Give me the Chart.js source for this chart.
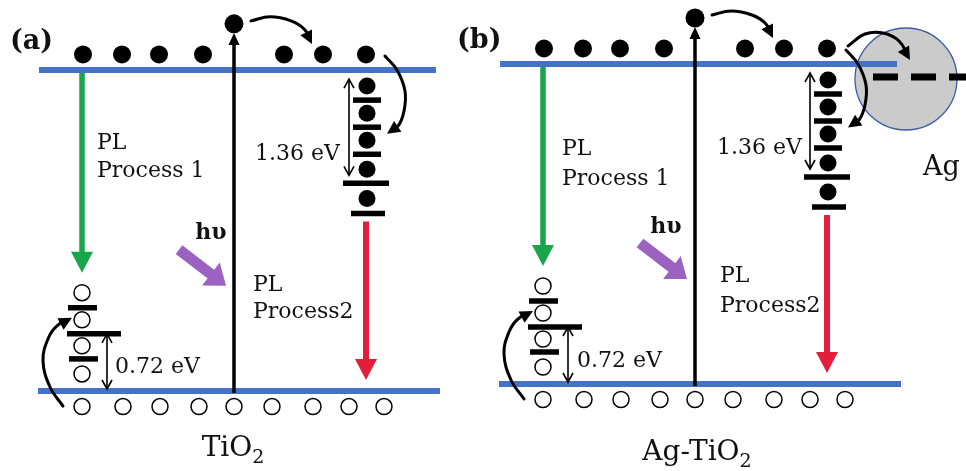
<!DOCTYPE html>
<html>
<head>
<meta charset="utf-8">
<title>PL processes in TiO2 and Ag-TiO2</title>
<script src="https://cdn.jsdelivr.net/npm/chart.js@4.4.0/dist/chart.umd.min.js"></script>
<style>
    body { margin: 0; background: #ffffff; }
    .wrap { position: relative; width: 966px; height: 471px; overflow: hidden; }
    canvas { position: absolute; top: 0; }
    #panelA { left: 0; }
    #panelB { left: 452px; }
</style>
</head>
<body>
<div class="wrap">
    <canvas id="panelA" width="452" height="471"></canvas>
    <canvas id="panelB" width="514" height="471"></canvas>
</div>
<script>
// energy axis in eV: valence band top = 0, conduction band bottom = 3.2
// x axis: position along the band, arbitrary units
const cbEnergy = 3.2;
const vbEnergy = 0;
const cbSpan = [1, 398];
const vbSpan = [0, 402];

const electronX = [45, 84, 121, 165, 246, 285, 328];
const electronE = 3.355;
const excitedElectron = [196, 3.66];
const holeX = [44, 85, 122, 161, 196, 234, 275, 311, 346];
const holeE = -0.155;

// electron traps under the conduction band
const eTrapX = 329;
const eTrapDots = [3.04, 2.77, 2.50, 2.21, 1.92];
const eTrapLevels = [2.90, 2.63, 2.36, 2.07, 1.77];
const eTrapSpans = [[315, 343], [315, 343], [315, 343], [305, 351], [313, 347]];

// hole traps over the valence band
const hTrapX = 44;
const hTrapDots = [0.98, 0.71, 0.45, 0.17];
const hTrapLevels = [0.83, 0.57, 0.32];
const hTrapSpans = [[30, 59], [29, 83], [31, 60]];

// transitions [x, eV]
const excitation = [[196, -0.02], [196, 3.57]];
const pl1Path = [[44, 3.17], [44, 1.18]];
const pl2Path = [[328, 1.69], [328, 0.11]];
const photonPath = [[141, 1.41], [188, 1.05]];
const relaxPath = [[213, 3.69], [232, 3.73], [253, 3.69], [267, 3.60], [274, 3.46]];
const trapPath = [[347, 3.34], [359, 3.20], [367, 2.99], [366, 2.79], [360, 2.64], [349, 2.565]];
const holeTrapPath = [[25, -0.15], [12, 0.04], [5, 0.30], [10, 0.52], [19, 0.65], [34, 0.73]];
const agPath = [[349, 3.38], [366, 3.50], [384, 3.51], [400, 3.43], [411, 3.24]];
const gap136 = [[311, 3.11], [311, 2.15]];
const gap072 = [[69, 0.57], [69, 0.02]];

// Ag nanoparticle and its Fermi level
const agParticle = [407, 3.05];
const agFermi = [[374, 3.07], [470, 3.07]];

const plText = ['PL', 'Process 1', 'PL', 'Process2'];
const gapText = ['1.36 eV', '0.72 eV'];
const photonText = 'hυ';

const colors = {
    band: '#4472c4',
    pl1: '#19a64b',
    pl2: '#e31e3a',
    photon: '#9b62c2',
    ink: '#000000',
    text: '#111111',
    ag: '#cbcbcb',
    agEdge: '#3d5ba6'
};

const fonts = {
    body: '22px "DejaVu Serif"',
    bold: 'bold 22px "DejaVu Serif"',
    letter: 'bold 27px "DejaVu Serif"',
    title: '28px "DejaVu Serif"',
    sub: '19px "DejaVu Serif"',
    ag: '27px "DejaVu Serif"'
};

const toPoints = list => list.map(([x, y]) => ({ x, y }));

function path(points, color, width, extra) {
    return Object.assign({
        data: toPoints(points),
        showLine: true,
        borderColor: color,
        borderWidth: width,
        borderCapStyle: 'butt',
        pointRadius: 0,
        tension: 0,
        fill: false
    }, extra);
}

function dots(xs, es, radius, fill, edge, edgeWidth) {
    return {
        data: xs.map((x, i) => ({ x, y: es[i] })),
        showLine: false,
        pointRadius: radius,
        pointBackgroundColor: fill,
        pointBorderColor: edge,
        pointBorderWidth: edgeWidth
    };
}

function levelBars(spans, levels) {
    return spans.map((s, i) => path([[s[0], levels[i]], [s[1], levels[i]]], colors.ink, 5.5));
}

function curve(points) {
    return path(points, colors.ink, 3, {
        tension: 0.4,
        borderCapStyle: 'round',
        head: { len: 13, width: 13 }
    });
}

// draws arrow heads at the end(s) of line datasets that carry a `head` entry
const arrowHeads = {
    id: 'arrowHeads',
    beforeDatasetDraw(chart, args) {
        const ds = chart.data.datasets[args.index];
        if (!ds.head) return;
        const pts = args.meta.data;
        const n = pts.length;
        const curved = ds.tension > 0;
        ds._ends = [];
        const addEnd = (tip, ref) => {
            const dx = tip.x - ref.x, dy = tip.y - ref.y;
            const d = Math.hypot(dx, dy) || 1;
            const u = { x: dx / d, y: dy / d };
            ds._ends.push({ tip, x: tip.x, y: tip.y, u });
        };
        const last = pts[n - 1];
        const lastRef = curved && Math.hypot(last.cp1x - last.x, last.cp1y - last.y) > 1
            ? { x: last.cp1x, y: last.cp1y } : pts[n - 2];
        addEnd(last, lastRef);
        if (ds.head.both) addEnd(pts[0], pts[1]);
        if (!ds.head.open) {
            ds._ends.forEach(e => {
                e.tip.x = e.x - e.u.x * ds.head.len * 0.75;
                e.tip.y = e.y - e.u.y * ds.head.len * 0.75;
            });
        }
        delete args.meta.dataset._path;
    },
    afterDatasetDraw(chart, args) {
        const ds = chart.data.datasets[args.index];
        if (!ds.head || !ds._ends) return;
        const ctx = chart.ctx;
        const h = ds.head;
        ctx.save();
        ds._ends.forEach(e => {
            e.tip.x = e.x;
            e.tip.y = e.y;
            const bx = e.x - e.u.x * h.len, by = e.y - e.u.y * h.len;
            const px = -e.u.y * h.width / 2, py = e.u.x * h.width / 2;
            ctx.beginPath();
            ctx.moveTo(bx + px, by + py);
            ctx.lineTo(e.x, e.y);
            ctx.lineTo(bx - px, by - py);
            if (h.open) {
                ctx.strokeStyle = ds.borderColor;
                ctx.lineWidth = ds.borderWidth;
                ctx.stroke();
            } else {
                ctx.closePath();
                ctx.fillStyle = ds.borderColor;
                ctx.fill();
            }
        });
        ctx.restore();
        delete args.meta.dataset._path;
    }
};

function textLayer(labels) {
    return {
        id: 'textLayer',
        afterDatasetsDraw(chart) {
            const { ctx, scales: { x, y } } = chart;
            ctx.save();
            ctx.fillStyle = colors.text;
            ctx.textBaseline = 'alphabetic';
            ctx.textAlign = 'left';
            labels.forEach(l => {
                const px = x.getPixelForValue(l.x);
                const py = y.getPixelForValue(l.e);
                ctx.font = l.font;
                const w = ctx.measureText(l.text).width;
                let sw = 0;
                if (l.sub) {
                    ctx.font = fonts.sub;
                    sw = ctx.measureText(l.sub).width;
                }
                let left = px;
                if (l.align === 'right') left = px - w - sw;
                if (l.align === 'center') left = px - (w + sw) / 2;
                ctx.font = l.font;
                ctx.fillText(l.text, left, py);
                if (l.sub) {
                    ctx.font = fonts.sub;
                    ctx.fillText(l.sub, left + w, py + 7);
                }
            });
            ctx.restore();
        }
    };
}

function buildPanel(id, panel) {
    const datasets = [
        path(excitation, colors.ink, 3.5, { head: { len: 12, width: 11 } }),
        curve(relaxPath),
        curve(trapPath),
        curve(holeTrapPath)
    ];
    if (panel.withAg) datasets.push(curve(agPath));
    datasets.push(
        path(gap136, colors.ink, 1.6, { head: { len: 9, width: 10, open: true, both: true } }),
        path(gap072, colors.ink, 1.6, { head: { len: 9, width: 10, open: true, both: true } }),
        path(pl1Path, colors.pl1, 5.5, { head: { len: 21, width: 22 } }),
        path(pl2Path, colors.pl2, 6, { head: { len: 21, width: 22 } }),
        path(photonPath, colors.photon, 11, { head: { len: 19, width: 29 } }),
        dots(electronX, electronX.map(() => electronE), 9, colors.ink, colors.ink, 0),
        dots([excitedElectron[0]], [excitedElectron[1]], 9.5, colors.ink, colors.ink, 0),
        dots(holeX, holeX.map(() => holeE), 8, '#ffffff', colors.ink, 1.5),
        dots(eTrapDots.map(() => eTrapX), eTrapDots, 8.5, colors.ink, colors.ink, 0),
        ...levelBars(eTrapSpans, eTrapLevels),
        dots(hTrapDots.map(() => hTrapX), hTrapDots, 8, '#ffffff', colors.ink, 1.5),
        ...levelBars(hTrapSpans, hTrapLevels),
        path([[cbSpan[0], cbEnergy], [cbSpan[1], cbEnergy]], colors.band, 6, { order: 5 }),
        path([[vbSpan[0], vbEnergy], [vbSpan[1], vbEnergy]], colors.band, 6, { order: 5 })
    );
    if (panel.withAg) {
        datasets.push(
            path(agFermi, colors.ink, 7, { borderDash: [25, 13], order: 3 }),
            Object.assign(dots([agParticle[0]], [agParticle[1]], 51, colors.ag, colors.agEdge, 1.3), { order: 9, clip: false })
        );
    }

    new Chart(document.getElementById(id), {
        type: 'scatter',
        data: { datasets },
        options: {
            responsive: false,
            animation: false,
            events: [],
            layout: { autoPadding: false, padding: 0 },
            scales: {
                x: { type: 'linear', display: false, min: panel.xMin, max: panel.xMax },
                y: { type: 'linear', display: false, min: panel.eMin, max: panel.eMax }
            },
            plugins: {
                legend: { display: false },
                tooltip: { enabled: false }
            }
        },
        plugins: [arrowHeads, textLayer(panel.labels)]
    });
}

buildPanel('panelA', {
    xMin: -38, xMax: 414, eMin: -0.7975, eMax: 3.898,
    withAg: false,
    labels: [
        { text: '(a)', x: -28, e: 3.41, font: fonts.letter },
        { text: plText[0], x: 59, e: 2.41, font: fonts.body },
        { text: plText[1], x: 59, e: 2.13, font: fonts.body },
        { text: plText[2], x: 215, e: 1.00, font: fonts.body },
        { text: plText[3], x: 215, e: 0.73, font: fonts.body },
        { text: gapText[0], x: 302, e: 2.30, font: fonts.body, align: 'right' },
        { text: gapText[1], x: 77, e: 0.18, font: fonts.body },
        { text: photonText, x: 173, e: 1.52, font: fonts.bold, align: 'center' },
        { text: 'TiO', sub: '2', x: 195, e: -0.65, font: fonts.title, align: 'center' }
    ]
});

buildPanel('panelB', {
    xMin: -47, xMax: 467, eMin: -0.87, eMax: 3.84,
    withAg: true,
    labels: [
        { text: '(b)', x: -42, e: 3.36, font: fonts.letter },
        { text: plText[0], x: 63, e: 2.29, font: fonts.body },
        { text: plText[1], x: 63, e: 1.99, font: fonts.body },
        { text: plText[2], x: 221, e: 1.02, font: fonts.body },
        { text: plText[3], x: 221, e: 0.72, font: fonts.body },
        { text: gapText[0], x: 303, e: 2.30, font: fonts.body, align: 'right' },
        { text: gapText[1], x: 78, e: 0.17, font: fonts.body },
        { text: photonText, x: 167, e: 1.51, font: fonts.bold, align: 'center' },
        { text: 'Ag-TiO', sub: '2', x: 198, e: -0.76, font: fonts.title, align: 'center' },
        { text: 'Ag', x: 424, e: 2.09, font: fonts.ag }
    ]
});
</script>
</body>
</html>
